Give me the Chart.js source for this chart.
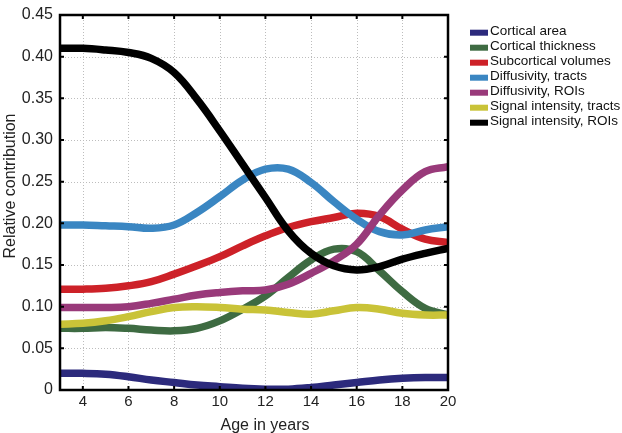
<!DOCTYPE html>
<html>
<head>
<meta charset="utf-8">
<script src="https://cdn.jsdelivr.net/npm/chart.js@4/dist/chart.umd.min.js"></script>
<style>
  body { margin: 0; background: #fff; }
  #wrap { width: 622px; height: 433px; }
</style>
</head>
<body>
<div id="wrap"><canvas id="chart" width="622" height="433"></canvas></div>
<script>
// Ages (x values) and the smoothed contribution of each measure
const ages = [3, 4, 5, 6, 7, 8, 9, 10, 11, 12, 13, 14, 15, 16, 17, 18, 19, 20];

const corticalArea      = [0.020, 0.020, 0.019, 0.016, 0.012, 0.009, 0.006, 0.004, 0.002, 0.001, 0.001, 0.003, 0.006, 0.009, 0.012, 0.014, 0.015, 0.015];
const corticalThickness = [0.074, 0.074, 0.075, 0.074, 0.072, 0.071, 0.074, 0.083, 0.097, 0.113, 0.135, 0.156, 0.169, 0.166, 0.143, 0.118, 0.098, 0.090];
const subcortical       = [0.121, 0.121, 0.122, 0.125, 0.130, 0.139, 0.149, 0.160, 0.173, 0.185, 0.195, 0.202, 0.207, 0.212, 0.208, 0.193, 0.181, 0.177];
const diffTracts        = [0.198, 0.198, 0.197, 0.196, 0.194, 0.198, 0.213, 0.232, 0.252, 0.265, 0.265, 0.249, 0.226, 0.205, 0.190, 0.186, 0.192, 0.196];
const diffROIs          = [0.099, 0.099, 0.099, 0.100, 0.104, 0.109, 0.114, 0.117, 0.119, 0.120, 0.127, 0.140, 0.155, 0.175, 0.210, 0.240, 0.262, 0.268];
const sigTracts         = [0.079, 0.080, 0.083, 0.088, 0.094, 0.099, 0.100, 0.099, 0.097, 0.096, 0.093, 0.091, 0.095, 0.099, 0.097, 0.092, 0.090, 0.090];
const sigROIs           = [0.410, 0.410, 0.408, 0.405, 0.398, 0.381, 0.349, 0.311, 0.271, 0.231, 0.191, 0.164, 0.149, 0.144, 0.148, 0.157, 0.164, 0.170];

const seriesNames = ['Cortical area', 'Cortical thickness', 'Subcortical volumes', 'Diffusivity, tracts',
                     'Diffusivity, ROIs', 'Signal intensity, tracts', 'Signal intensity, ROIs'];
const seriesValues = [corticalArea, corticalThickness, subcortical, diffTracts, diffROIs, sigTracts, sigROIs];
const seriesColors = ['#2c2a7c', '#3e6b42', '#cd2128', '#3a86c2', '#993a7a', '#c9c338', '#000000'];

const xTicks = [4, 6, 8, 10, 12, 14, 16, 18, 20];
const yTicks = [0, 0.05, 0.10, 0.15, 0.20, 0.25, 0.30, 0.35, 0.40, 0.45];
const yTickLabels = ['0', '0.05', '0.10', '0.15', '0.20', '0.25', '0.30', '0.35', '0.40', '0.45'];
const xTitle = 'Age in years';
const yTitle = 'Relative contribution';

const FONT = '"Liberation Sans", Arial, Helvetica, sans-serif';

// Dotted grid behind the lines (drawn as single pixels)
const gridPlugin = {
    id: 'dottedGrid',
    beforeDatasetsDraw(chart) {
        const ctx = chart.ctx;
        const a = chart.chartArea;
        const xs = chart.scales.x, ys = chart.scales.y;
        ctx.save();
        ctx.fillStyle = '#bdbdbd';
        xTicks.forEach(v => {
            const px = Math.round(xs.getPixelForValue(v));
            for (let y = a.top + 2; y < a.bottom; y += 3) ctx.fillRect(px, y, 1, 1);
        });
        yTicks.forEach(v => {
            const py = Math.round(ys.getPixelForValue(v));
            for (let x = a.left + 2; x < a.right; x += 3) ctx.fillRect(x, py, 1, 1);
        });
        ctx.restore();
    }
};

// Frame with inward tick marks on all four sides, axis titles and the legend
const framePlugin = {
    id: 'frame',
    afterDraw(chart) {
        const ctx = chart.ctx;
        const a = chart.chartArea;
        const xs = chart.scales.x, ys = chart.scales.y;
        ctx.save();
        ctx.strokeStyle = '#000';
        ctx.lineWidth = 2;
        xTicks.forEach(v => {
            const px = xs.getPixelForValue(v);
            ctx.beginPath();
            ctx.moveTo(px, a.bottom); ctx.lineTo(px, a.bottom - 4);
            ctx.moveTo(px, a.top); ctx.lineTo(px, a.top + 4);
            ctx.stroke();
        });
        yTicks.forEach(v => {
            const py = ys.getPixelForValue(v);
            ctx.beginPath();
            ctx.moveTo(a.left, py); ctx.lineTo(a.left + 4, py);
            ctx.moveTo(a.right, py); ctx.lineTo(a.right - 4, py);
            ctx.stroke();
        });
        ctx.lineWidth = 2.5;
        ctx.strokeRect(a.left, a.top, a.right - a.left, a.bottom - a.top);

        // axis titles
        ctx.fillStyle = '#222';
        ctx.font = '16px ' + FONT;
        ctx.textAlign = 'center';
        ctx.textBaseline = 'alphabetic';
        ctx.fillText(xTitle, 265, 430);
        ctx.save();
        ctx.translate(15, 186);
        ctx.rotate(-Math.PI / 2);
        ctx.fillText(yTitle, 0, 0);
        ctx.restore();

        // legend
        ctx.font = '13.5px ' + FONT;
        ctx.textAlign = 'left';
        seriesNames.forEach((name, i) => {
            const cy = 32.7 + i * 15;
            ctx.fillStyle = seriesColors[i];
            ctx.fillRect(470, cy - 3, 18, 6);
            ctx.fillStyle = '#111';
            ctx.fillText(name, 490, cy + 2);
        });
        ctx.restore();
    }
};

const datasets = seriesNames.map((name, i) => ({
    label: name,
    data: ages.map((age, j) => ({ x: age, y: seriesValues[i][j] })),
    borderColor: seriesColors[i],
    backgroundColor: seriesColors[i],
    borderWidth: 7.5,
    pointRadius: 0,
    tension: 0.4,
    fill: false,
    order: seriesNames.length - i
}));

new Chart(document.getElementById('chart').getContext('2d'), {
    type: 'line',
    data: { datasets },
    options: {
        responsive: false,
        animation: false,
        layout: { padding: { top: 8, right: 174, left: 0, bottom: 0 } },
        plugins: { legend: { display: false }, tooltip: { enabled: false } },
        scales: {
            x: {
                type: 'linear',
                min: 3,
                max: 20,
                afterBuildTicks: scale => { scale.ticks = xTicks.map(v => ({ value: v })); },
                afterFit: scale => { scale.height = 43; },
                grid: { display: false, drawTicks: false },
                border: { display: false },
                ticks: { color: '#222', padding: 4, font: { family: FONT, size: 15, lineHeight: 1 } }
            },
            y: {
                min: 0,
                max: 0.45,
                afterBuildTicks: scale => { scale.ticks = yTicks.map(v => ({ value: v })); },
                afterFit: scale => { scale.width = 60; },
                grid: { display: false, drawTicks: false },
                border: { display: false },
                ticks: {
                    color: '#222',
                    padding: 7,
                    font: { family: FONT, size: 16, lineHeight: 1 },
                    callback: (v, i) => yTickLabels[i]
                }
            }
        }
    },
    plugins: [gridPlugin, framePlugin]
});
</script>
</body>
</html>
